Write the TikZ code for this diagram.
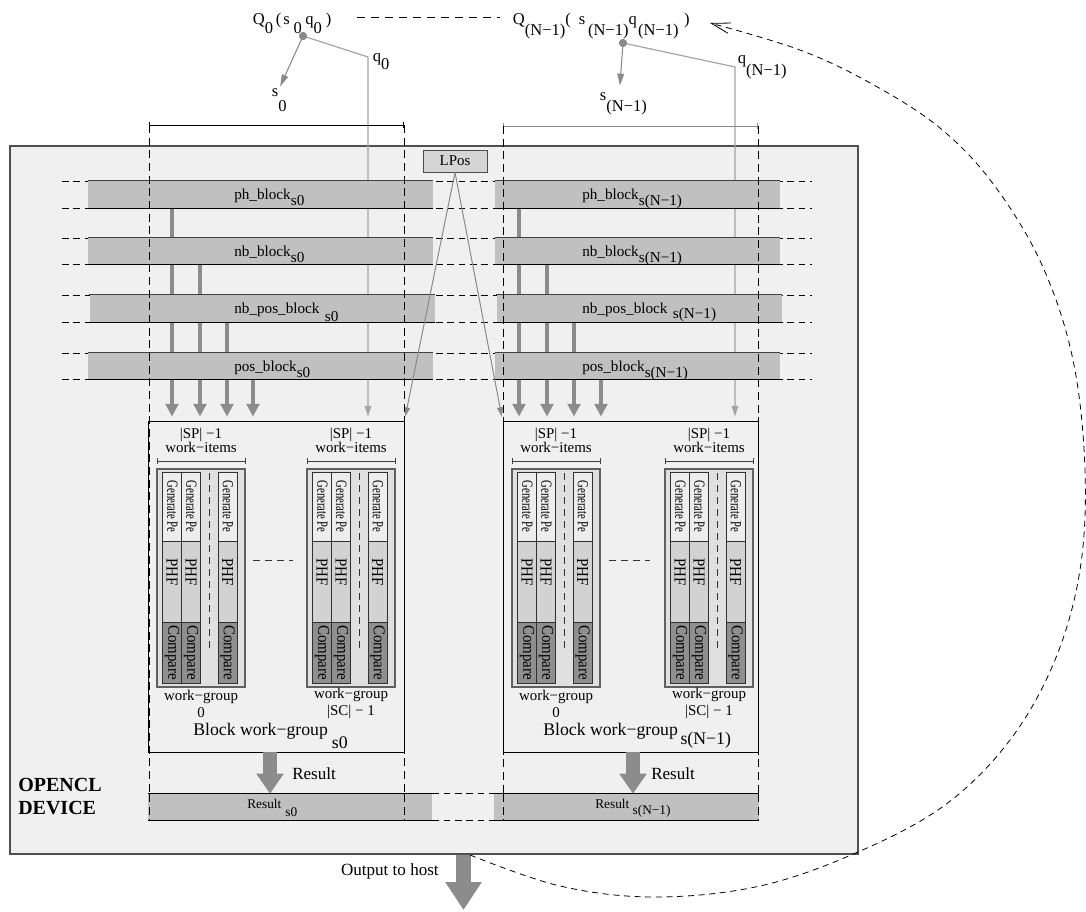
\documentclass[tikz,border=0pt]{standalone}
\usepackage{fontspec}
\setmainfont{Liberation Serif}
\usetikzlibrary{arrows.meta,fit,calc}
\definecolor{devbg}{HTML}{F0F0F0}
\definecolor{devedge}{HTML}{505050}
\definecolor{barfill}{HTML}{C0C0C0}
\definecolor{wgfill}{HTML}{E0E0E0}
\definecolor{wgedge}{HTML}{606060}
\definecolor{genfill}{HTML}{EDEDED}
\definecolor{phffill}{HTML}{D2D2D2}
\definecolor{cmpfill}{HTML}{8F8F8F}
\definecolor{celledge}{HTML}{303030}
\definecolor{arrgray}{HTML}{8C8C8C}
\definecolor{qgray}{HTML}{A4A4A4}
\definecolor{sgray}{HTML}{8A8A8A}
\definecolor{lposfill}{HTML}{D5D5D5}
\newcommand\lowr[2][4pt]{\raisebox{-#1}{#2}}
\pgfdeclarelayer{bglayer}
\pgfdeclarelayer{midlayer}
\pgfsetlayers{bglayer,midlayer,main}

% one bar row: #1 name, #2 top, #3 bottom, #4 x shift, #5 left text, #6 right text
\newcommand\barrow[6]{%
  \draw[rowdash] (62,#2) -- (812,#2);
  \draw[rowdash] (62,#3) -- (812,#3);
  \node[barnode, fit={({88+#4},#2)({433+#4},#3)}] (#1a) {};
  \node[barnode, fit={({495+#4},#2)({780+#4},#3)}] (#1b) {};
  \draw[topedge] (#1a.north west) -- (#1a.north east);
  \draw[botedge] (#1a.south west) -- (#1a.south east);
  \draw[topedge] (#1b.north west) -- (#1b.north east);
  \draw[botedge] (#1b.south west) -- (#1b.south east);
  \node[barlbl] (#1at) at (234,{#2+18.5}) {#5};
  \node[barlbl] (#1bt) at (582,{#2+18.5}) {#6};
}

% one work-group: #1 left x, #2 name, #3 number label
\newcommand\wgrp[3]{%
  \node[wgbox, fit={(#1,469)({#1+88},687)}] (#2) {};
  \foreach \cx/\kk in {5.5/a,24.5/b,61/c}{
    \node[genbox, fit={({#1+\cx},472)({#1+\cx+19},541)}] (#2g\kk) {};
    \node[gentxt] (#2gt\kk) at ([xshift=0.3pt]#2g\kk.center) {\scalebox{0.93}[1.35]{Generate Pe}};
    \node[phfbox, fit={({#1+\cx},541)({#1+\cx+19},622)}] (#2p\kk) {};
    \node[celltxt] (#2pt\kk) at ([yshift=7pt]#2p\kk.center) {\scalebox{1}[1.12]{PHF}};
    \node[cmpbox, fit={({#1+\cx},622)({#1+\cx+19},683)}] (#2c\kk) {};
    \node[celltxt] (#2ct\kk) at (#2c\kk.center) {\scalebox{1}[1.1]{Compare}};
  }
  \draw[wgdash] ({#1+52},473) -- ({#1+52},652);
  \node[wtxt] (#2h) at ({#1+44},440) {|SP| −1\\work−items};
  \draw[brk] ({#1},461) -- ({#1+89},461);
  \node[wlbl] (#2l) at ({#1+44},703.5) {work−group\\#3};
}

\begin{document}
\begin{tikzpicture}[x=0.75pt,y=-0.75pt,
  devbox/.style={fill=devbg, draw=devedge, line width=0.8pt, inner sep=0pt},
  barnode/.style={fill=barfill, draw=none, inner sep=0pt},
  topedge/.style={draw=black!75, line width=0.5pt},
  botedge/.style={draw=black, line width=0.6pt},
  rowdash/.style={draw=black, line width=0.55pt, dash pattern=on 5pt off 3.5pt},
  vdsh/.style={draw=black, line width=0.6pt, dash pattern=on 6pt off 3.5pt},
  barlbl/.style={font=\fontsize{11.4}{13}\selectfont, inner sep=0pt, anchor=base west},
  blkbox/.style={fill=devbg, draw=black, line width=0.7pt, inner sep=0pt},
  wgbox/.style={fill=wgfill, draw=wgedge, line width=0.9pt, inner sep=0pt},
  genbox/.style={fill=genfill, draw=celledge, line width=0.6pt, inner sep=0pt},
  phfbox/.style={fill=phffill, draw=celledge, line width=0.6pt, inner sep=0pt},
  cmpbox/.style={fill=cmpfill, draw=celledge, line width=0.6pt, inner sep=0pt},
  gentxt/.style={rotate=-90, font=\fontsize{8.6}{10}\selectfont, inner sep=0pt},
  celltxt/.style={rotate=-90, font=\fontsize{11.2}{12}\selectfont, inner sep=0pt},
  wtxt/.style={font=\fontsize{11.2}{10.5}\selectfont, align=center, inner sep=0pt},
  wlbl/.style={font=\fontsize{11.2}{12.75}\selectfont, align=center, inner sep=0pt},
  wgdash/.style={draw=black!80, line width=0.6pt, dash pattern=on 5pt off 4pt},
  brk/.style={draw=black!75, line width=0.6pt, {Bar[width=5pt]}-{Bar[width=5pt]}},
  blklbl/.style={font=\fontsize{13.3}{15}\selectfont, inner sep=0pt, anchor=base west},
  fatarr/.style={draw=arrgray, line width=2.5pt, -{Triangle[length=9.5pt,width=9.5pt]}, shorten >=3pt},
  qline/.style={draw=qgray, line width=0.9pt, -{Triangle[length=8pt,width=5pt]}, shorten >=3pt},
  sarr/.style={draw=sgray, line width=0.8pt, -{Triangle[length=9pt,width=5pt]}},
  lparr/.style={draw=sgray, line width=0.75pt, -{Triangle[length=7pt,width=4.5pt]}, shorten >=3pt},
  qlbl/.style={font=\fontsize{12.4}{14}\selectfont, inner sep=0.5pt, anchor=base west},
  qdot/.style={circle, fill=sgray, inner sep=0pt, minimum size=6pt},
  qdash/.style={draw=black, line width=0.6pt, dash pattern=on 6pt off 4.5pt},
  resarr/.style={draw=arrgray, line width=10.5pt, -{Triangle[length=15pt,width=19.5pt]}},
  outarr/.style={draw=arrgray, line width=11pt, -{Triangle[length=21pt,width=26pt]}},
  reslbl/.style={font=\fontsize{12.8}{15}\selectfont, inner sep=0pt, anchor=base west},
  resbar/.style={font=\fontsize{10}{12}\selectfont, inner sep=0pt, anchor=base west},
  arcd/.style={draw=black, line width=0.6pt, dash pattern=on 4.5pt off 3.5pt, -{Straight Barb[length=14pt,width=8pt]}},
  lposbox/.style={fill=lposfill, draw=black!70, line width=0.7pt, minimum width=48pt, minimum height=16.5pt, inner sep=0pt, font=\fontsize{11.2}{13}\selectfont},
  devlbl/.style={font=\bfseries\fontsize{15}{17.25}\selectfont, align=left, inner sep=0pt, anchor=base west},
]
\useasboundingbox (0,0) rectangle (1086,912);

% device box
\begin{pgfonlayer}{bglayer}
  \node[devbox, fit={(10,146)(858,854)}] (dev) {};
\end{pgfonlayer}

% bar rows
\barrow{ph}{181}{208}{0}{ph\_block\lowr[4.5pt]{s0}}{ph\_block\lowr[4.5pt]{s(N−1)}}
\barrow{nb}{238}{264}{0}{nb\_block\lowr[4.5pt]{s0}}{nb\_block\lowr[4.5pt]{s(N−1)}}
\barrow{np}{295}{322}{1.5}{nb\_pos\_block\hspace{4pt}\lowr[6pt]{s0}}{nb\_pos\_block\hspace{4pt}\lowr[4pt]{s(N−1)}}
\barrow{ps}{353}{379}{0}{pos\_block\lowr[4.5pt]{s0}}{pos\_block\lowr[4.5pt]{s(N−1)}}

% blocks
\node[blkbox, fit={(148,421)(404,752)}] (blk0) {};
\node[blkbox, fit={(503,421)(758,752)}] (blk1) {};
\wgrp{157}{wga}{0}
\wgrp{307}{wgb}{|SC| − 1}
\wgrp{512}{wgc}{0}
\wgrp{665}{wgd}{|SC| − 1}
\draw[wgdash] (253,560) -- (293,560);
\draw[wgdash] (609,560) -- (650,560);
\node[blklbl] (blk0t) at (193,735) {Block work−group\hspace{3pt}\lowr[10pt]{s0}};
\node[blklbl] (blk1t) at (543,735) {Block work−group\hspace{2pt}\lowr[7pt]{s(N−1)}};

% gray arrows from the bars (behind the bars)
\begin{pgfonlayer}{midlayer}
  \foreach \xx/\rw [count=\i] in {172/pha,200/nba,227/npa,253/psa}{
    \coordinate (fa\i) at (\xx,0);
    \draw[fatarr] (\rw.south -| fa\i) -- (blk0.north -| fa\i);
  }
  \foreach \xx/\rw [count=\i] in {519/phb,547/nbb,574/npb,601/psb}{
    \coordinate (fb\i) at (\xx,0);
    \draw[fatarr] (\rw.south -| fb\i) -- (blk1.north -| fb\i);
  }
  % q lines
  \node[qdot] (d0) at (303,36) {};
  \node[qdot] (d1) at (623,43) {};
  \coordinate (b0) at (368,57);
  \coordinate (b1) at (735,67);
  \draw[qline] (d0.center) -- (b0) -- (blk0.north -| b0);
  \draw[qline] (d1.center) -- (b1) -- (blk1.north -| b1);
\end{pgfonlayer}

% LPos
\node[lposbox] (lpos) at (455,161) {LPos};
\draw[lparr] (lpos.south) -- (blk0.north east);
\draw[lparr] (lpos.south) -- (blk1.north west);

% top labels
\node[qdot] (d0b) at (303,36) {};
\node[qdot] (d1b) at (623,43) {};
\node[qlbl] (Q0) at (252,25) {Q\lowr[6.5pt]{0}\hspace{2pt}(\hspace{1.5pt}s\hspace{3pt}\lowr[6.5pt]{0}\hspace{2.5pt}q\lowr[6.5pt]{0}\hspace{3pt})};
\node[qlbl] (QN) at (512,25) {Q\lowr[8pt]{(N−1)}(\hspace{6pt}s\hspace{2pt}\lowr[8pt]{(N−1)}q\hspace{1pt}\lowr[8pt]{(N−1)}\hspace{4pt})};
\coordinate (qd1) at (357,17);
\coordinate (qd2) at (500,17);
\draw[qdash] (qd1) -- (qd2);
\node[qlbl] (s0l) at (271,97) {s\lowr[11pt]{0}};
\node[qlbl] (sNl) at (599,101) {s\lowr[8pt]{(N−1)}};
\node[qlbl] (q0l) at (372,62) {q\lowr[6pt]{0}};
\node[qlbl] (qNl) at (737,64) {q\lowr[9pt]{(N−1)}};
\draw[sarr, shorten >=1.5pt] (d0b.center) -- (s0l.north);
\draw[sarr, shorten >=5pt] (d1b.center) -- ([xshift=-3pt]sNl.north);

% brackets and dashed verticals
\draw[brk, draw=black] (149,125) -- (404,125);
\draw[brk, draw=black!45] (503,126) -- (758,126);
\draw[vdsh] (149,125) -- (149,820);
\draw[vdsh] (404,125) -- (404,820);
\draw[vdsh] (503,126) -- (503,820);
\draw[vdsh] (758,126) -- (758,820);

% results
\node[barnode, fit={(148,794)(432,820)}] (res0) {};
\node[barnode, fit={(494,794)(759,820)}] (res1) {};
\draw[botedge] (res0.north west) -- (res0.north east);
\draw[botedge] (res0.south west) -- (res0.south east);
\draw[botedge] (res1.north west) -- (res1.north east);
\draw[botedge] (res1.south west) -- (res1.south east);
\draw[rowdash] (res0.north east) -- (res1.north west);
\draw[rowdash] (res0.south east) -- (res1.south west);
\draw[vdsh] (149,794) -- (149,820);
\draw[vdsh] (404,794) -- (404,820);
\draw[vdsh] (503,794) -- (503,820);
\draw[vdsh] (758,794) -- (758,820);
\node[resbar] (res0t) at (247,808) {Result\hspace{3pt}\lowr[6.5pt]{s0}};
\node[resbar] (res1t) at (595,808) {Result\hspace{2.5pt}\lowr[5pt]{s(N−1)}};
\coordinate (xr0) at (270,0);
\coordinate (xr1) at (633,0);
\draw[resarr] (blk0.south -| xr0) -- (res0.north -| xr0);
\draw[resarr] (blk1.south -| xr1) -- (res1.north -| xr1);
\node[reslbl] (rl0) at (292,779) {Result};
\node[reslbl] (rl1) at (651,779) {Result};

\node[devlbl] (devt) at (18,814) {OPENCL\\DEVICE};

% output
\coordinate (oend) at (463.5,910);
\draw[outarr] (dev.south -| oend) -- (oend);
\node[font=\fontsize{12.8}{15}\selectfont, inner sep=0pt, anchor=base east] (outt) at (439,875) {Output to host};

% feedback arc
\draw[arcd] plot[smooth, tension=0.6] coordinates {(470,855) (560,886) (655,897) (760,886) (858,852) (945,805) (1010,740) (1055,660) (1080,570) (1085,470) (1073,360) (1042,265) (994,185) (940,128) (872,84) (800,50) (710,23)};
\end{tikzpicture}
\end{document}
